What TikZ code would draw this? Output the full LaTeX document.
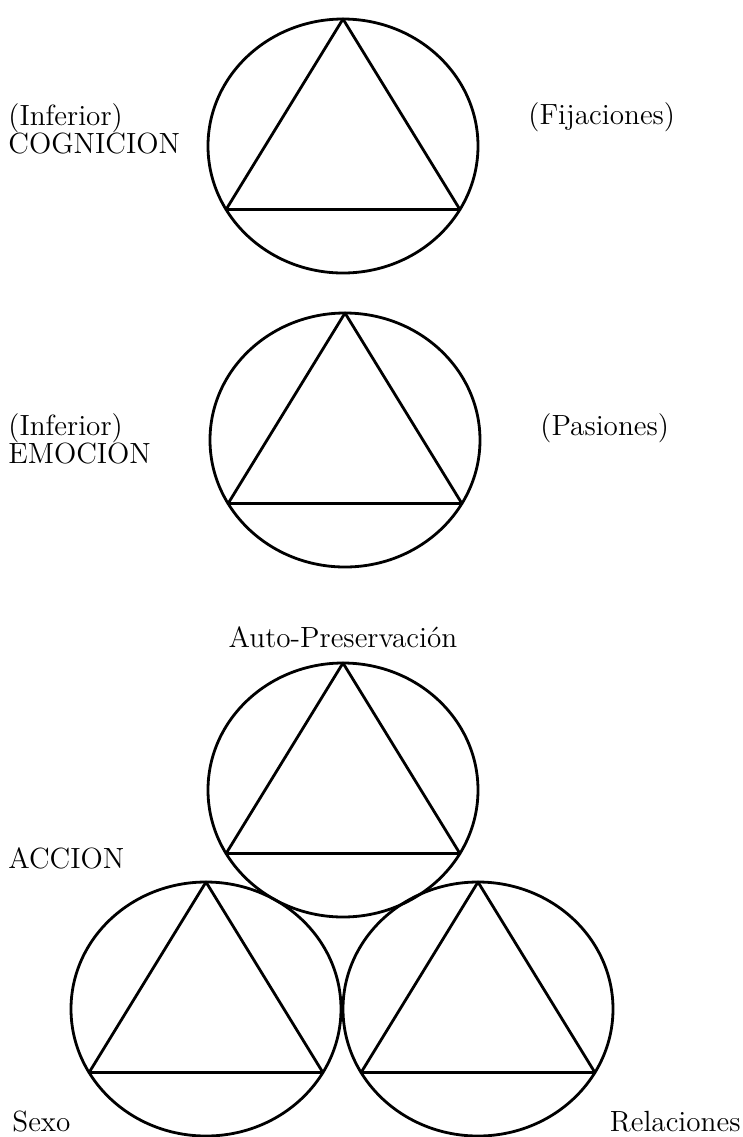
\documentclass[tikz,border=0pt]{standalone}
\usepackage{fontspec}
\usepackage{tikz}

\begin{document}
\begin{tikzpicture}[x=0.5pt, y=-0.5pt,
    ring/.style = {line width=1.4pt, line join=round},
    lbl/.style = {font=\fontsize{14.6}{14}\selectfont, inner sep=0pt}]
    \useasboundingbox (0,0) rectangle (743,1137);
    % circles with their triangles
    \foreach \cx/\cy in {343/146, 345/440, 343/790, 206/1009, 478/1009}{
        \draw[ring] (\cx,\cy) ellipse [x radius=135, y radius=127];
        \draw[ring] (\cx,\cy-127) -- ({\cx-116.9},{\cy+63.5}) -- ({\cx+116.9},{\cy+63.5}) -- cycle;
    }
    % labels
    \node[lbl, anchor=base west] (infcog) at (8,125) {(Inferior)};
    \node[lbl, anchor=base west] (cog) at (8,153) {COGNICION};
    \node[lbl, anchor=base west] (fij) at (528,124) {(Fijaciones)};
    \node[lbl, anchor=base west] (infemo) at (8,435) {(Inferior)};
    \node[lbl, anchor=base west] (emo) at (8,463) {EMOCION};
    \node[lbl, anchor=base west] (pas) at (540,435) {(Pasiones)};
    \node[lbl, anchor=base] (auto) at (343,647) {Auto-Preservación};
    \node[lbl, anchor=base west] (acc) at (8,868) {ACCION};
    \node[lbl, anchor=base west] (sexo) at (12,1131) {Sexo};
    \node[lbl, anchor=base east] (rel) at (741,1131) {Relaciones};
\end{tikzpicture}
\end{document}
